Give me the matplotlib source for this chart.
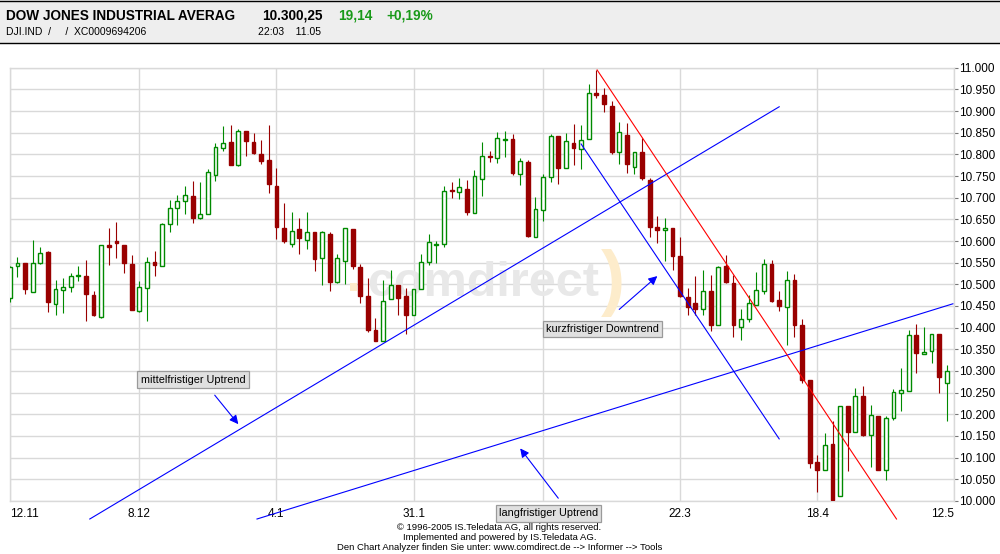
import matplotlib
matplotlib.use("Agg")
import matplotlib.pyplot as plt
from matplotlib.patches import Rectangle
from matplotlib.lines import Line2D
from matplotlib.ticker import FuncFormatter, MultipleLocator

plt.rcParams['font.family'] = ['Liberation Sans', 'DejaVu Sans']

# daily candles, 12.11.2004 .. 11.05.2005 (x = trading day index)
opens = [10468, 10543, 10550, 10483, 10550, 10574, 10455, 10488, 10494, 10519,
         10520, 10476, 10424, 10591, 10599, 10591, 10548, 10438, 10492, 10552,
         10543, 10639, 10676, 10692, 10704, 10654, 10663, 10752, 10815, 10829,
         10775, 10854, 10829, 10802, 10786, 10728, 10631, 10593, 10627, 10602,
         10620, 10561, 10617, 10505, 10554, 10627, 10539, 10472, 10395, 10369,
         10465, 10499, 10472, 10430, 10490, 10552, 10591, 10593, 10717, 10713,
         10719, 10665, 10743, 10797, 10792, 10833, 10836, 10755, 10783, 10610,
         10672, 10747, 10842, 10768, 10827, 10812, 10835, 10941, 10938, 10912,
         10805, 10845, 10772, 10806, 10741, 10632, 10626, 10629, 10565, 10471,
         10457, 10442, 10485, 10405, 10542, 10502, 10401, 10420, 10453, 10485,
         10548, 10463, 10448, 10509, 10405, 10278, 10089, 10072, 10131, 10010,
         10219, 10158, 10242, 10151, 10195, 10072, 10191, 10249, 10254, 10384,
         10340, 10345, 10385, 10273]
highs = [10542, 10564, 10550, 10603, 10586, 10576, 10509, 10515, 10527, 10543,
         10557, 10484, 10591, 10631, 10645, 10591, 10568, 10507, 10564, 10576,
         10642, 10695, 10707, 10728, 10739, 10737, 10767, 10826, 10866, 10869,
         10859, 10854, 10850, 10833, 10869, 10769, 10687, 10668, 10654, 10666,
         10620, 10624, 10620, 10569, 10629, 10627, 10548, 10514, 10422, 10511,
         10532, 10499, 10492, 10489, 10571, 10617, 10601, 10726, 10737, 10746,
         10742, 10765, 10829, 10807, 10852, 10855, 10846, 10792, 10786, 10702,
         10755, 10846, 10842, 10850, 10870, 10869, 10963, 10995, 10953, 10923,
         10875, 10872, 10805, 10839, 10745, 10658, 10652, 10629, 10610, 10492,
         10520, 10533, 10522, 10543, 10568, 10522, 10443, 10476, 10528, 10558,
         10555, 10484, 10530, 10523, 10419, 10278, 10105, 10156, 10185, 10218,
         10219, 10260, 10265, 10221, 10195, 10197, 10259, 10306, 10394, 10408,
         10401, 10386, 10385, 10313]
lows = [10459, 10517, 10478, 10483, 10547, 10436, 10430, 10434, 10482, 10507,
        10416, 10426, 10423, 10544, 10560, 10526, 10440, 10437, 10416, 10520,
        10543, 10620, 10636, 10662, 10641, 10651, 10663, 10739, 10809, 10775,
        10773, 10796, 10800, 10779, 10710, 10604, 10596, 10587, 10571, 10581,
        10530, 10498, 10484, 10503, 10501, 10535, 10457, 10391, 10368, 10369,
        10465, 10430, 10385, 10430, 10490, 10545, 10549, 10587, 10699, 10696,
        10660, 10665, 10704, 10783, 10780, 10794, 10752, 10729, 10610, 10610,
        10647, 10736, 10731, 10768, 10775, 10766, 10835, 10931, 10899, 10802,
        10779, 10758, 10754, 10742, 10610, 10596, 10554, 10532, 10470, 10428,
        10428, 10429, 10393, 10405, 10504, 10379, 10371, 10414, 10453, 10477,
        10459, 10439, 10359, 10378, 10272, 10075, 10021, 10072, 10000, 10010,
        10069, 10158, 10150, 10079, 10072, 10048, 10187, 10208, 10254, 10296,
        10340, 10319, 10250, 10185]
closes = [10540, 10550, 10490, 10550, 10573, 10459, 10490, 10493, 10520, 10522,
          10478, 10428, 10591, 10586, 10595, 10550, 10441, 10494, 10552, 10544,
          10639, 10676, 10693, 10706, 10653, 10663, 10760, 10817, 10826, 10776,
          10853, 10830, 10803, 10784, 10731, 10632, 10599, 10624, 10607, 10621,
          10558, 10620, 10506, 10560, 10629, 10542, 10473, 10395, 10368, 10462,
          10499, 10468, 10429, 10489, 10552, 10598, 10594, 10716, 10716, 10725,
          10667, 10750, 10796, 10794, 10838, 10836, 10756, 10785, 10611, 10674,
          10748, 10842, 10769, 10831, 10814, 10833, 10941, 10938, 10916, 10806,
          10852, 10778, 10805, 10745, 10633, 10626, 10629, 10566, 10472, 10448,
          10442, 10484, 10405, 10539, 10505, 10405, 10419, 10457, 10486, 10548,
          10462, 10450, 10509, 10405, 10278, 10087, 10072, 10128, 10002, 10218,
          10159, 10243, 10152, 10199, 10072, 10192, 10252, 10256, 10384, 10342,
          10344, 10385, 10285, 10300]

# gridline days; the 24.2 label sits under the annotation box in the original
tick_pos = [0, 17, 35, 53, 70, 88, 106, 124]
tick_labels = ['12.11', '8.12', '4.1', '31.1', '', '22.3', '18.4', '12.5']

# drawn trend lines: (x0, y0, x1, y1) in day index / index points
mid_trend = [10.5, 9958, 101.0, 10910]
long_trend = [32.45, 9958, 123.8, 10455]
short_blue = [75.0, 10824, 101.0, 10143]
short_red = [77.1, 10995, 116.4, 9958]

# annotations: label, box centre, arrow tail, arrow tip
notes = [
    ('mittelfristiger Uptrend', (24.05, 10280), (26.9, 10244), (30.0, 10177)),
    ('kurzfristiger Downtrend', (77.8, 10397), (80.0, 10442), (85.0, 10519)),
    ('langfristiger Uptrend', (70.7, 9971), (72.0, 10006), (67.0, 10121)),
]

GREEN = '#008a00'
RED = '#990000'
GRID = '#d9d9d9'


def fy(px):
    return 1 - px / 554.0


fig = plt.figure(figsize=(10, 5.54), dpi=100)
ax = fig.add_axes([0.0098, 0.0960, 0.9446, 0.7816])

# watermark
ax.text(0.4835, fy(284), 'comdirect', transform=fig.transFigure, ha='center', va='center',
        fontsize=35, fontweight='bold', color='#e8e8e8', zorder=1)
ax.text(0.613, fy(283), ')', transform=fig.transFigure, ha='center', va='center',
        fontsize=52, fontweight='bold', color='#fdeccb', zorder=1)
ax.add_patch(Rectangle((0.350, fy(291)), 0.007, 8 / 554, transform=fig.transFigure,
                       fc='#fdeccb', ec='none', zorder=1))

# candles
x = list(range(len(opens)))
up = [c >= o for o, c in zip(opens, closes)]
ax.vlines(x, lows, highs, colors=[GREEN if u else RED for u in up], lw=0.8, zorder=3)
for i in x:
    lo, hi = min(opens[i], closes[i]), max(opens[i], closes[i])
    h = max(hi - lo, 2)
    if up[i]:
        ax.bar(i, h, bottom=lo, width=0.5, facecolor='white', edgecolor=GREEN, lw=1.0, zorder=4)
    else:
        ax.bar(i, h, bottom=lo, width=0.5, facecolor=RED, edgecolor=RED, lw=1.0, zorder=4)

# trend lines
for seg, col in [(mid_trend, 'blue'), (long_trend, 'blue'), (short_blue, 'blue'), (short_red, 'red')]:
    ax.plot([seg[0], seg[2]], [seg[1], seg[3]], color=col, lw=0.8, clip_on=False, zorder=5)

for label, box, tail, tip in notes:
    ax.annotate('', xy=tip, xytext=tail,
                arrowprops=dict(arrowstyle='-|>', color='blue', lw=0.8, mutation_scale=13,
                                shrinkA=0, shrinkB=0),
                annotation_clip=False, zorder=6)
    ax.text(box[0], box[1], label, ha='center', va='center', fontsize=7.8, zorder=7, clip_on=False,
            bbox=dict(boxstyle='square,pad=0.3', fc='#e0e0e0', ec='#9a9a9a', lw=0.9))

ax.set_xlim(0, 124)
ax.set_ylim(10000, 11000)
ax.set_xticks(tick_pos)
ax.set_xticklabels(tick_labels)
lbls = ax.get_xticklabels()
lbls[0].set_ha('left')
lbls[-1].set_ha('right')
ax.tick_params(axis='x', length=0, pad=5, labelsize=8.5)
ax.yaxis.tick_right()
ax.yaxis.set_major_locator(MultipleLocator(50))
ax.yaxis.set_major_formatter(FuncFormatter(lambda v, p: f'{int(v):,}'.replace(',', '.')))
ax.tick_params(axis='y', length=3, pad=0.5, labelsize=8.5, color='#777777')
ax.grid(True, color=GRID, lw=1.0, zorder=0)
ax.set_axisbelow(True)
for s in ax.spines.values():
    s.set_color(GRID)
    s.set_linewidth(1.0)

# header band
fig.add_artist(Rectangle((0, fy(43)), 1, 43 / 554, transform=fig.transFigure, fc='#eeeeee', ec='none'))
fig.add_artist(Line2D([0, 1], [fy(0.7)] * 2, transform=fig.transFigure, color='black', lw=1))
fig.add_artist(Line2D([0, 1], [fy(43.3)] * 2, transform=fig.transFigure, color='black', lw=1))
fig.text(0.006, fy(20), 'DOW JONES INDUSTRIAL AVERAG', fontsize=9.8, fontweight='bold', va='baseline')
fig.text(0.262, fy(20), '10.300,25', fontsize=9.8, fontweight='bold', va='baseline')
fig.text(0.338, fy(20), '19,14', fontsize=9.8, fontweight='bold', va='baseline', color='#199a19')
fig.text(0.386, fy(20), '+0,19%', fontsize=9.8, fontweight='bold', va='baseline', color='#199a19')
fig.text(0.006, fy(35), 'DJI.IND  /     /  XC0009694206', fontsize=7.5, va='baseline')
fig.text(0.258, fy(35), '22:03    11.05', fontsize=7.5, va='baseline')

# footer
foot = ['\u00a9 1996-2005 IS.Teledata AG, all rights reserved.',
        'Implemented and powered by IS.Teledata AG.',
        'Den Chart Analyzer finden Sie unter: www.comdirect.de --> Informer --> Tools']
for k, line in enumerate(foot):
    fig.text(0.4995, fy(528 + 10 * k), line, ha='center', va='center', fontsize=6.8,
             family=['Liberation Sans Narrow', 'Liberation Sans', 'DejaVu Sans'])

fig.savefig('out.png', dpi=100)
